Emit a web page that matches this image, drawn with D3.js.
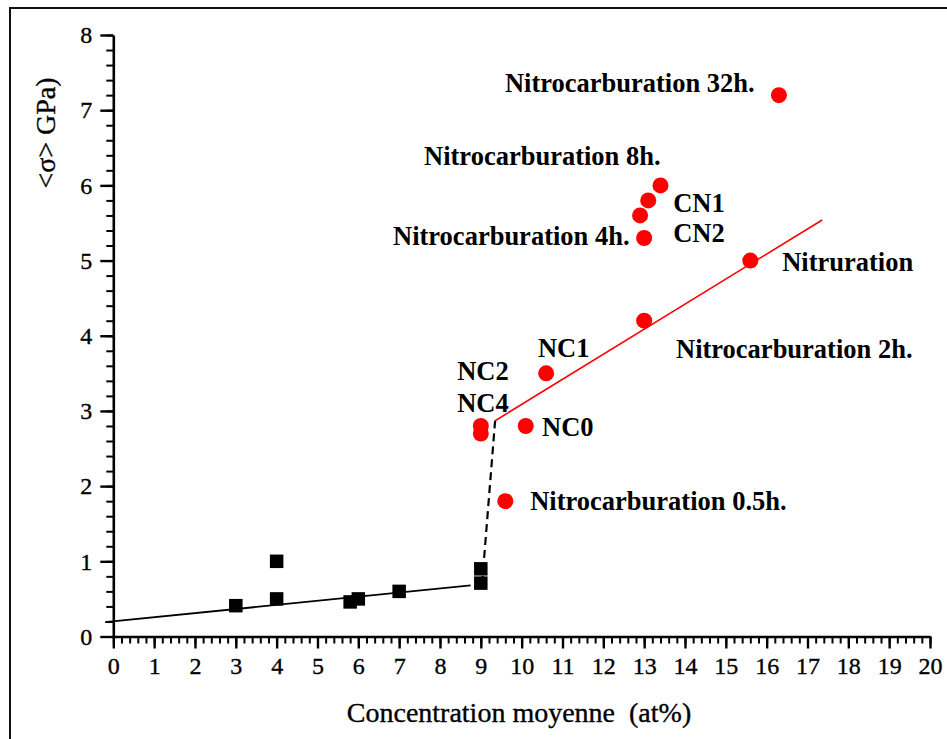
<!DOCTYPE html>
<html>
<head>
<meta charset="utf-8">
<script src="https://cdn.jsdelivr.net/npm/d3@7"></script>
<style>
  html, body { margin: 0; padding: 0; background: #fff; }
  svg { display: block; }
</style>
</head>
<body>
<svg id="chart" width="947" height="739"></svg>
<script>
// Untreated / low-concentration samples (black squares)
const baseX = [3.0, 4.0, 4.0, 5.8, 6.0, 7.0, 9.0, 9.0];
const baseY = [0.41, 1.0, 0.5, 0.46, 0.5, 0.6, 0.9, 0.71];

// Treated samples (red dots)
const treatedX = [16.3, 13.4, 13.1, 12.9, 13.0, 15.6, 13.0, 10.6, 9.0, 9.0, 10.1, 9.6];
const treatedY = [7.2, 6.0, 5.8, 5.6, 5.3, 5.0, 4.2, 3.5, 2.8, 2.7, 2.8, 1.8];

// Trend lines: low regime, transition, high regime
const lowFit = [[-0.2, 0.19], [8.75, 0.68]];
const jumpFit = [[9.03, 0.7], [9.35, 2.87]];
const highFit = [[9.35, 2.87], [17.36, 5.54]];

// Sample names, anchored in data units
const labelText = ["Nitrocarburation 32h.", "Nitrocarburation 8h.", "Nitrocarburation 4h.",
  "CN1", "CN2", "Nitruration", "Nitrocarburation 2h.", "NC1", "NC2", "NC4", "NC0",
  "Nitrocarburation 0.5h."];
const labelX = [9.59, 7.61, 6.85, 13.71, 13.71, 16.38, 13.78, 10.40, 8.42, 8.42, 10.50, 10.21];
const labelY = [7.24, 6.27, 5.21, 5.64, 5.25, 4.86, 3.70, 3.72, 3.41, 2.99, 2.67, 1.68];

const xTicks = d3.range(0, 21, 1);
const yTicks = d3.range(0, 9, 1);
const xLabel = "Concentration moyenne  (at%)";
const yLabel = "<σ> GPa)";

const SERIF = "'Liberation Serif', 'Times New Roman', Times, serif";

const svg = d3.select("#chart");

// page frame
svg.append("rect")
  .attr("x", 10).attr("y", 8)
  .attr("width", 960).attr("height", 760)
  .attr("fill", "none").attr("stroke", "#111").attr("stroke-width", 2);

const x = d3.scaleLinear().domain([0, 20]).range([113.3, 930]);
const y = d3.scaleLinear().domain([0, 8]).range([636.5, 35]);

// regular-weight text, slightly thickened
const plainText = sel => sel
  .style("font-family", SERIF)
  .attr("fill", "#000")
  .attr("stroke", "#000")
  .attr("stroke-width", 0.35);

// x axis: minor ticks, then major ticks with labels
svg.append("g").attr("transform", `translate(0,${y(0)})`)
  .call(d3.axisBottom(x).tickValues(d3.range(0, 20.01, 0.2)).tickSize(7).tickFormat(""))
  .call(g => g.select(".domain").remove())
  .call(g => g.selectAll(".tick line").attr("stroke-width", 2));
svg.append("g").attr("transform", `translate(0,${y(0)})`)
  .call(d3.axisBottom(x).tickValues(xTicks).tickSize(12).tickSizeOuter(0).tickPadding(8).tickFormat(d3.format("d")))
  .call(g => g.select(".domain").attr("stroke-width", 2.6))
  .call(g => g.selectAll(".tick line").attr("stroke-width", 2.4))
  .call(g => g.selectAll(".tick text").call(plainText).style("font-size", "24px"));

// y axis: minor ticks, then major ticks with labels
svg.append("g").attr("transform", `translate(${x(0)},0)`)
  .call(d3.axisLeft(y).tickValues(d3.range(0, 8.01, 0.2)).tickSize(7).tickFormat(""))
  .call(g => g.select(".domain").remove())
  .call(g => g.selectAll(".tick line").attr("stroke-width", 2));
svg.append("g").attr("transform", `translate(${x(0)},0)`)
  .call(d3.axisLeft(y).tickValues(yTicks).tickSize(13).tickSizeOuter(0).tickPadding(8).tickFormat(d3.format("d")))
  .call(g => g.select(".domain").attr("stroke-width", 2.6))
  .call(g => g.selectAll(".tick line").attr("stroke-width", 2.4))
  .call(g => g.selectAll(".tick text").call(plainText).style("font-size", "24px"));

// axis titles
svg.append("text")
  .attr("x", 519).attr("y", 722)
  .attr("text-anchor", "middle")
  .call(plainText).style("font-size", "28px")
  .style("white-space", "pre")
  .text(xLabel);
svg.append("text")
  .attr("transform", "translate(55,133) rotate(-90)")
  .attr("text-anchor", "middle")
  .call(plainText).style("font-size", "28px")
  .text(yLabel);

const line = d3.line().x(d => x(d[0])).y(d => y(d[1]));

svg.append("path").attr("d", line(lowFit))
  .attr("fill", "none").attr("stroke", "#000").attr("stroke-width", 1.8);
svg.append("path").attr("d", line(jumpFit))
  .attr("fill", "none").attr("stroke", "#000").attr("stroke-width", 2.2)
  .attr("stroke-dasharray", "8,5");
svg.append("path").attr("d", line(highFit))
  .attr("fill", "none").attr("stroke", "#ff0000").attr("stroke-width", 1.6);

// black squares
const sq = 13.5;
svg.append("g").selectAll("rect")
  .data(baseX.map((v, i) => [v, baseY[i]]))
  .join("rect")
  .attr("x", d => x(d[0]) - sq / 2)
  .attr("y", d => y(d[1]) - sq / 2)
  .attr("width", sq).attr("height", sq)
  .attr("fill", "#000");

// red dots
svg.append("g").selectAll("circle")
  .data(treatedX.map((v, i) => [v, treatedY[i]]))
  .join("circle")
  .attr("cx", d => x(d[0]))
  .attr("cy", d => y(d[1]))
  .attr("r", 8)
  .attr("fill", "#ff0000");

// sample labels
svg.append("g").selectAll("text")
  .data(labelText.map((t, i) => ({ t, x: labelX[i], y: labelY[i] })))
  .join("text")
  .attr("x", d => x(d.x))
  .attr("y", d => y(d.y))
  .style("font-family", SERIF).style("font-size", "26.5px").style("font-weight", "bold")
  .text(d => d.t);
</script>
</body>
</html>
